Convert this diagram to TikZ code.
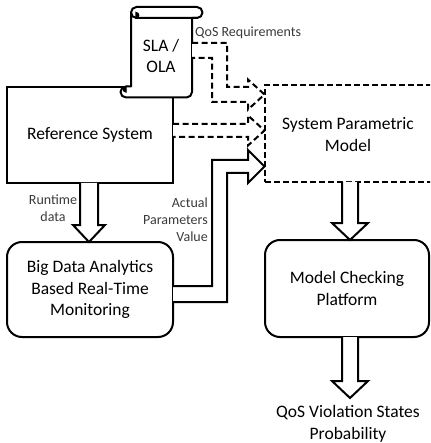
\documentclass[tikz,border=0pt]{standalone}
\usepackage{fontspec}
\setmainfont{Carlito}
\definecolor{labgray}{HTML}{3A3A3A}
\begin{document}
\begin{tikzpicture}[x=1pt,y=-1pt,
  lw/.style={line width=2pt},
  bigtext/.style={font=\fontsize{17.5}{21.7}\selectfont,align=center,inner sep=0pt},
  smalltext/.style={font=\fontsize{14}{17}\selectfont,text=labgray,inner sep=0pt},
  plainbox/.style={draw,lw,bigtext,minimum width=166pt,minimum height=96pt},
  roundbox/.style={plainbox,rounded corners=15pt},
  dashbox/.style={plainbox,dash pattern=on 6pt off 3pt},
  hollow/.style={lw,fill=white,line join=miter},
  dhollow/.style={hollow,dash pattern=on 6pt off 3.5pt}
]
\useasboundingbox (0,0) rectangle (430,443);
\clip (0,0) rectangle (430,443);

% boxes
\node[plainbox] (ref) at (90,135) {Reference System};
\node[roundbox,minimum height=95pt] (bda) at (90,289.5) {Big Data Analytics\\Based Real-Time\\Monitoring};
\node[dashbox,minimum width=170pt,minimum height=97pt] (spm) at (350,133.5) {};
\node[bigtext] (spmtext) at (348,134.5) {System Parametric\\Model};
\node[roundbox,minimum width=164pt,minimum height=97pt] (mcp) at (347,288.5) {Model Checking\\Platform};
\node[bigtext] (out) at (348,424) {QoS Violation States\\Probability};

% scroll (SLA / OLA)
\filldraw[lw,fill=white,line join=round] (131,12.5) arc[start angle=180,end angle=90,radius=5.5pt]
  -- (197,7) arc[start angle=90,end angle=-90,radius=5.5pt]
  -- (192,18) -- (192,92) arc[start angle=0,end angle=-90,radius=5.5pt]
  -- (126,97.5) arc[start angle=-90,end angle=-270,radius=5.5pt]
  -- (131,86.5) -- cycle;
\draw[lw] (131,12.5) arc[start angle=180,end angle=270,radius=5.5pt] -- (197,18);
\filldraw[line width=1.2pt] (136,18) arc[start angle=-90,end angle=90,radius=2.75pt] -- cycle;
\filldraw[line width=1.2pt] (126,92) arc[start angle=270,end angle=90,radius=2.75pt] -- cycle;
\node[bigtext] (sla) at (161,56) {SLA /\\OLA};

% labels
\node[smalltext,anchor=west] (qos) at (195,33) {QoS Requirements};
\node[smalltext,align=center] (rt) at (53,208.5) {Runtime\\data};
\node[smalltext,align=right,anchor=east] (apv) at (208,220) {Actual\\Parameters\\Value};

% dashed hollow arrows into the parametric model
\filldraw[dhollow] (192,43) -- (227,43) -- (227,87) -- (248,87) -- (248,79.5) -- (264.5,94.5)
  -- (248,109.5) -- (248,102) -- (212,102) -- (212,58) -- (192,58);
\filldraw[dhollow] (173,124) -- (248,124) -- (248,115.5) -- (264.5,130.5) -- (248,145.5)
  -- (248,137) -- (173,137);

% solid hollow arrow from monitoring
\filldraw[hollow] (173,286) -- (212,286) -- (212,160) -- (248,160) -- (248,150) -- (264.5,166.5)
  -- (248,183) -- (248,173) -- (227,173) -- (227,302) -- (173,302);

% vertical hollow arrows
\filldraw[hollow] (80,183) -- (80,225) -- (73,225) -- (89,242) -- (105,225) -- (98,225) -- (98,183);
\filldraw[hollow] (342,182) -- (342,223) -- (332,223) -- (350,240) -- (368,223) -- (358,223) -- (358,182);
\filldraw[hollow] (342,337) -- (342,381) -- (332,381) -- (350,398) -- (368,381) -- (358,381) -- (358,337);
\end{tikzpicture}
\end{document}
